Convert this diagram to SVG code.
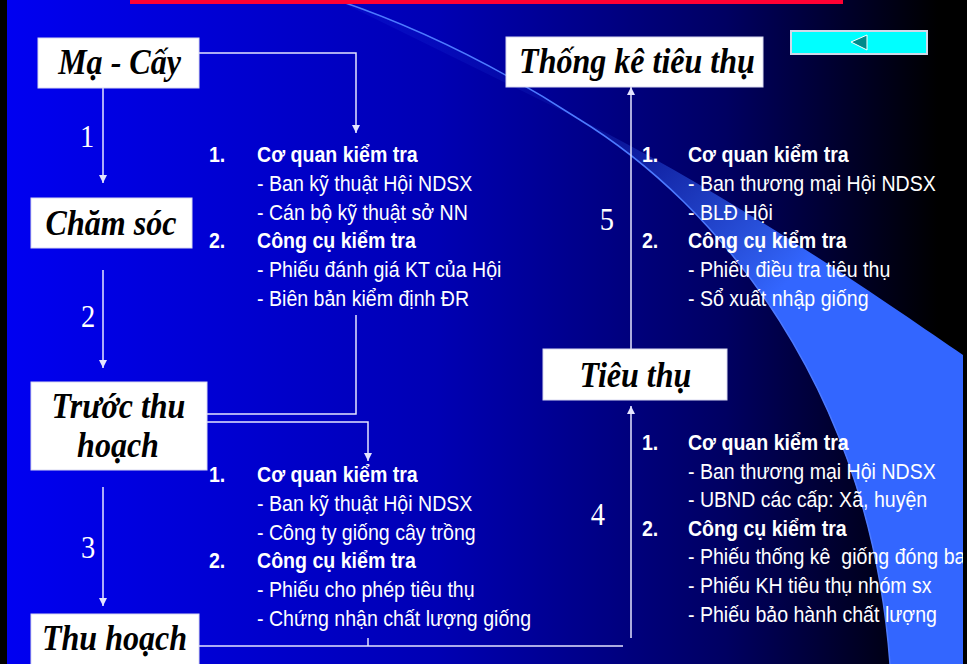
<svg xmlns="http://www.w3.org/2000/svg" width="967" height="664" viewBox="0 0 967 664">
<defs>
<linearGradient id="bg" x1="0" y1="0" x2="967" y2="0" gradientUnits="userSpaceOnUse">
<stop offset="0" stop-color="#0000f2"/>
<stop offset="0.45" stop-color="#0000b4"/>
<stop offset="0.75" stop-color="#000062"/>
<stop offset="0.97" stop-color="#000000"/>
</linearGradient>
<linearGradient id="sw" x1="590" y1="125" x2="770" y2="300" gradientUnits="userSpaceOnUse">
<stop offset="0" stop-color="#3366ff" stop-opacity="0.1"/>
<stop offset="1" stop-color="#3366ff" stop-opacity="1"/>
</linearGradient>
<marker id="ah" viewBox="0 0 10 10" refX="10" refY="5" markerWidth="9" markerHeight="8" markerUnits="userSpaceOnUse" orient="auto">
<path d="M0,0 L10,5 L0,10 z" fill="#e4e4ff"/>
</marker>
<style>
.box{fill:#ffffff;stroke:#d8d8f0;stroke-width:1}
.lbl{font-family:"Liberation Serif","Times New Roman",serif;font-weight:bold;font-style:italic;font-size:36px;fill:#000000;text-anchor:middle}
.num{font-family:"Liberation Serif","Times New Roman",serif;font-size:32px;fill:#ffffff;text-anchor:middle}
.t{font-family:"Liberation Sans",Arial,sans-serif;font-size:22px;fill:#ffffff;white-space:pre}
.b{font-weight:bold}
.ln{fill:none;stroke:#e4e4ff;stroke-width:1.5}
</style>
</defs>
<rect x="0" y="0" width="967" height="664" fill="url(#bg)"/>
<path d="M337,0 C420,28 500,68 577,118 C720,205 870,390 890,664 L963,664 L963,355 C890,305 740,200 577,118 Z" fill="url(#sw)"/>
<path d="M337,0 C420,28 500,68 577,118 C720,205 870,390 890,664" fill="none" stroke="#4d7aff" stroke-width="1.5"/>
<rect x="0" y="0" width="7" height="664" fill="#000000"/>
<rect x="130" y="0" width="713" height="4" fill="#ff0033"/>
<g id="back-button">
<rect x="791" y="31" width="136" height="23" fill="#00ffff" stroke="#d0d8e8" stroke-width="2"/>
<path d="M851,42 L867,35 L867,50 Z" fill="#008b8b" stroke="#ffffff" stroke-width="1"/>
</g>
<g id="connectors">
<line class="ln" x1="103" y1="88" x2="103" y2="183" marker-end="url(#ah)"/>
<line class="ln" x1="103" y1="270" x2="103" y2="368" marker-end="url(#ah)"/>
<line class="ln" x1="103" y1="487" x2="103" y2="606" marker-end="url(#ah)"/>
<polyline class="ln" points="199,53 356,53 356,133" marker-end="url(#ah)"/>
<polyline class="ln" points="356,315 356,414 207,414"/>
<polyline class="ln" points="207,422 368,422 368,461" marker-end="url(#ah)"/>
<line class="ln" x1="199" y1="646" x2="623" y2="646"/>
<line class="ln" x1="368" y1="638" x2="368" y2="646"/>
<line class="ln" x1="631" y1="638" x2="631" y2="406" marker-end="url(#ah)"/>
<line class="ln" x1="631" y1="349" x2="631" y2="87" marker-end="url(#ah)"/>
</g>
<g id="labels" transform="scale(0.89,1)">
<text class="num" x="97.8" y="147">1</text>
<text class="num" x="98.9" y="327">2</text>
<text class="num" x="98.9" y="558">3</text>
<text class="num" x="671.9" y="525">4</text>
<text class="num" x="682" y="230">5</text>
</g>
<g id="ma-cay">
<rect class="box" x="38" y="38" width="161" height="50"/>
<text class="lbl" x="134.3" y="74" transform="scale(0.89,1)">Mạ - Cấy</text>
</g>
<g id="cham-soc">
<rect class="box" x="31" y="198" width="161" height="50"/>
<text class="lbl" x="124.7" y="235" transform="scale(0.89,1)">Chăm sóc</text>
</g>
<g id="truoc-thu-hoach">
<rect class="box" x="31" y="382" width="176" height="88"/>
<text class="lbl" x="133.1" y="418" transform="scale(0.89,1)">Trước thu</text>
<text class="lbl" x="132.6" y="457" transform="scale(0.89,1)">hoạch</text>
</g>
<g id="thu-hoach">
<rect class="box" x="31" y="614" width="168" height="60"/>
<text class="lbl" x="128.7" y="650" transform="scale(0.89,1)">Thu hoạch</text>
</g>
<g id="tieu-thu">
<rect class="box" x="543" y="349" width="184" height="51"/>
<text class="lbl" x="714" y="387" transform="scale(0.89,1)">Tiêu thụ</text>
</g>
<g id="thong-ke-tieu-thu">
<rect class="box" x="506" y="37" width="257" height="50"/>
<text class="lbl" x="715.7" y="73" transform="scale(0.89,1)">Thống kê tiêu thụ</text>
</g>
<g id="check-1" transform="scale(0.89,1)">
<text class="t b" x="234.8" y="162">1.</text><text class="t b" x="288.8" y="162">Cơ quan kiểm tra</text>
<text class="t" x="288.8" y="191">- Ban kỹ thuật Hội NDSX</text>
<text class="t" x="288.8" y="220">- Cán bộ kỹ thuật sở NN</text>
<text class="t b" x="234.8" y="248">2.</text><text class="t b" x="288.8" y="248">Công cụ kiểm tra</text>
<text class="t" x="288.8" y="277">- Phiếu đánh giá KT của Hội</text>
<text class="t" x="288.8" y="306">- Biên bản kiểm định ĐR</text>
</g>
<g id="check-3" transform="scale(0.89,1)">
<text class="t b" x="234.8" y="482">1.</text><text class="t b" x="288.8" y="482">Cơ quan kiểm tra</text>
<text class="t" x="288.8" y="511">- Ban kỹ thuật Hội NDSX</text>
<text class="t" x="288.8" y="540">- Công ty giống cây trồng</text>
<text class="t b" x="234.8" y="568">2.</text><text class="t b" x="288.8" y="568">Công cụ kiểm tra</text>
<text class="t" x="288.8" y="597">- Phiếu cho phép tiêu thụ</text>
<text class="t" x="288.8" y="626">- Chứng nhận chất lượng giống</text>
</g>
<g id="check-5" transform="scale(0.89,1)">
<text class="t b" x="721.3" y="162">1.</text><text class="t b" x="773" y="162">Cơ quan kiểm tra</text>
<text class="t" x="773" y="191">- Ban thương mại Hội NDSX</text>
<text class="t" x="773" y="220">- BLĐ Hội</text>
<text class="t b" x="721.3" y="248">2.</text><text class="t b" x="773" y="248">Công cụ kiểm tra</text>
<text class="t" x="773" y="277">- Phiếu điều tra tiêu thụ</text>
<text class="t" x="773" y="306">- Sổ xuất nhập giống</text>
</g>
<g id="check-4" transform="scale(0.89,1)">
<text class="t b" x="721.3" y="450">1.</text><text class="t b" x="773" y="450">Cơ quan kiểm tra</text>
<text class="t" x="773" y="479">- Ban thương mại Hội NDSX</text>
<text class="t" x="773" y="507">- UBND các cấp: Xã, huyện</text>
<text class="t b" x="721.3" y="536">2.</text><text class="t b" x="773" y="536">Công cụ kiểm tra</text>
<text class="t" x="773" y="564">- Phiếu thống kê  giống đóng ba</text>
<text class="t" x="773" y="593">- Phiếu KH tiêu thụ nhóm sx</text>
<text class="t" x="773" y="622">- Phiếu bảo hành chất lượng</text>
</g>
<rect x="963" y="0" width="4" height="664" fill="#000000"/>
</svg>
